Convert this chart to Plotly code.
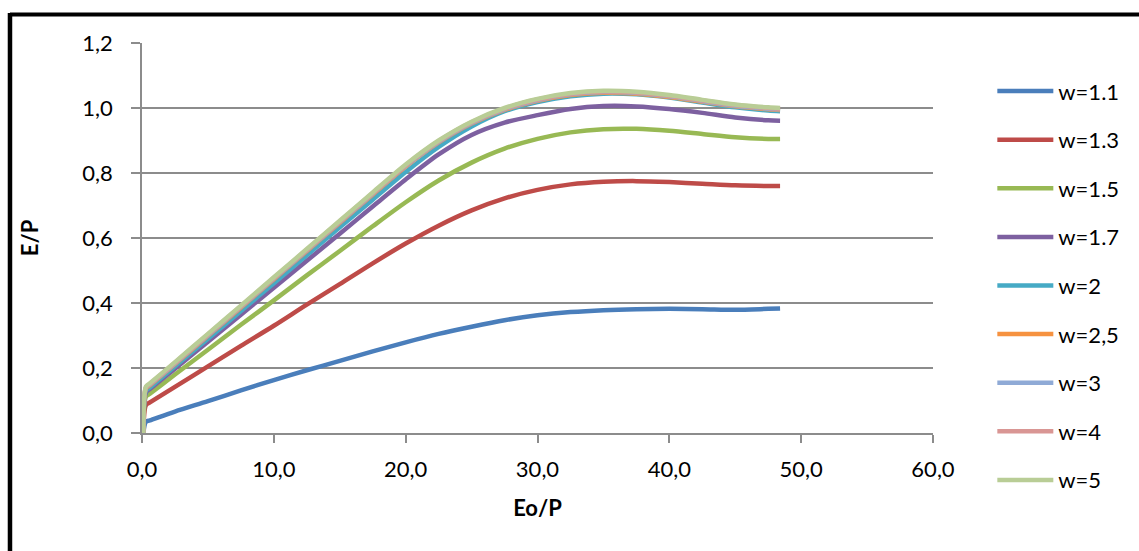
import plotly.graph_objects as go

eo_p = [0.1, 0.3, 0.6, 2.5, 5, 7.5, 10, 12.5, 15, 17.5, 20, 22.5, 25, 27.5,
        30, 32.5, 35, 37.5, 40, 42.5, 45, 47.5, 48.4]

names = ["w=1.1", "w=1.3", "w=1.5", "w=1.7", "w=2", "w=2,5", "w=3", "w=4", "w=5"]

w11 = [0, 0.035, 0.039, 0.066, 0.098, 0.131, 0.163, 0.193, 0.222, 0.251, 0.279, 0.305,
       0.327, 0.347, 0.362, 0.372, 0.378, 0.381, 0.382, 0.381, 0.379, 0.382, 0.383]
w13 = [0, 0.086, 0.094, 0.142, 0.205, 0.268, 0.330, 0.395, 0.458, 0.522, 0.583, 0.638,
       0.685, 0.722, 0.748, 0.765, 0.773, 0.775, 0.772, 0.767, 0.762, 0.760, 0.760]
w15 = [0, 0.112, 0.121, 0.180, 0.256, 0.333, 0.408, 0.485, 0.560, 0.636, 0.710, 0.777,
       0.832, 0.875, 0.905, 0.925, 0.935, 0.936, 0.930, 0.920, 0.910, 0.905, 0.905]
w17 = [0, 0.125, 0.135, 0.198, 0.281, 0.364, 0.447, 0.530, 0.613, 0.697, 0.780, 0.857,
       0.917, 0.955, 0.978, 0.997, 1.006, 1.005, 0.997, 0.985, 0.971, 0.962, 0.961]
w20 = [0, 0.130, 0.140, 0.205, 0.290, 0.375, 0.461, 0.547, 0.633, 0.718, 0.803, 0.880,
       0.943, 0.990, 1.018, 1.036, 1.044, 1.042, 1.032, 1.017, 1.002, 0.992, 0.990]
w25 = [0, 0.137, 0.147, 0.212, 0.299, 0.386, 0.473, 0.560, 0.647, 0.734, 0.820, 0.894,
       0.952, 0.994, 1.022, 1.040, 1.047, 1.044, 1.034, 1.019, 1.005, 0.996, 0.994]
w30 = [0, 0.139, 0.149, 0.214, 0.301, 0.388, 0.475, 0.562, 0.649, 0.736, 0.822, 0.896,
       0.954, 0.996, 1.024, 1.042, 1.049, 1.046, 1.036, 1.021, 1.007, 0.998, 0.996]
w40 = [0, 0.141, 0.151, 0.216, 0.303, 0.390, 0.477, 0.564, 0.651, 0.738, 0.824, 0.898,
       0.956, 0.998, 1.026, 1.044, 1.051, 1.048, 1.038, 1.023, 1.009, 1.000, 0.998]
w50 = [0, 0.143, 0.153, 0.218, 0.305, 0.392, 0.479, 0.566, 0.653, 0.740, 0.826, 0.900,
       0.958, 1.000, 1.028, 1.046, 1.053, 1.050, 1.040, 1.025, 1.011, 1.002, 1.000]

series = [w11, w13, w15, w17, w20, w25, w30, w40, w50]
colors = ["#4A7EBB", "#BE4B48", "#98B954", "#7D60A0", "#46AAC5",
          "#F69240", "#8FAAD6", "#D99694", "#B9CD96"]

x_ticks = [0, 10, 20, 30, 40, 50, 60]
y_ticks = [0, 0.2, 0.4, 0.6, 0.8, 1.0, 1.2]

FONT = "Lato"
FS = 22

fig = go.Figure()
for name, ys, c in zip(names, series, colors):
    fig.add_trace(go.Scatter(
        x=eo_p, y=ys, name=name, mode="lines",
        line=dict(color=c, width=4.5, shape="spline", smoothing=0.8),
        legendgroup=name,
    ))

grid = "#8C8C8C"
fig.update_layout(
    width=1139, height=551,
    margin=dict(l=142, r=206, t=43, b=118),
    paper_bgcolor="white", plot_bgcolor="white",
    separators=", ",
    font=dict(family=FONT, size=FS, color="black"),
    showlegend=True,
    legend=dict(x=1.075, y=0.93, xanchor="left", yanchor="top",
                tracegroupgap=17, itemwidth=56, font=dict(size=FS),
                maxheight=600, bgcolor="rgba(0,0,0,0)"),
    xaxis=dict(range=[0, 60], tickvals=x_ticks, tickformat=".1f",
               showgrid=False, showline=True, linecolor=grid, linewidth=1.5,
               ticks="outside", ticklen=8, tickcolor=grid, tickwidth=1.5,
               ticklabelstandoff=8, zeroline=False,
               title=dict(text="<b>Eo/P</b>", standoff=19, font=dict(size=FS))),
    yaxis=dict(range=[0, 1.2], tickvals=y_ticks, tickformat=".1f",
               showgrid=True, gridcolor=grid, gridwidth=1.5,
               showline=True, linecolor=grid, linewidth=1.5,
               ticks="outside", ticklen=9, tickcolor=grid, tickwidth=1.5,
               ticklabelstandoff=14, zeroline=False,
               title=dict(text="<b>E/P</b>", standoff=38, font=dict(size=FS))),
)

# Black frame (top and left edges visible in the reference)
fig.add_shape(type="line", xref="paper", yref="paper",
              x0=-0.1669, x1=1.3, y0=1.0731, y1=1.0731,
              line=dict(color="black", width=4))
fig.add_shape(type="line", xref="paper", yref="paper",
              x0=-0.1669, x1=-0.1669, y0=1.0770, y1=-0.35,
              line=dict(color="black", width=4.5))

fig.write_html("out.html", config={"displayModeBar": False},
               post_script="document.body.style.margin='0';")
